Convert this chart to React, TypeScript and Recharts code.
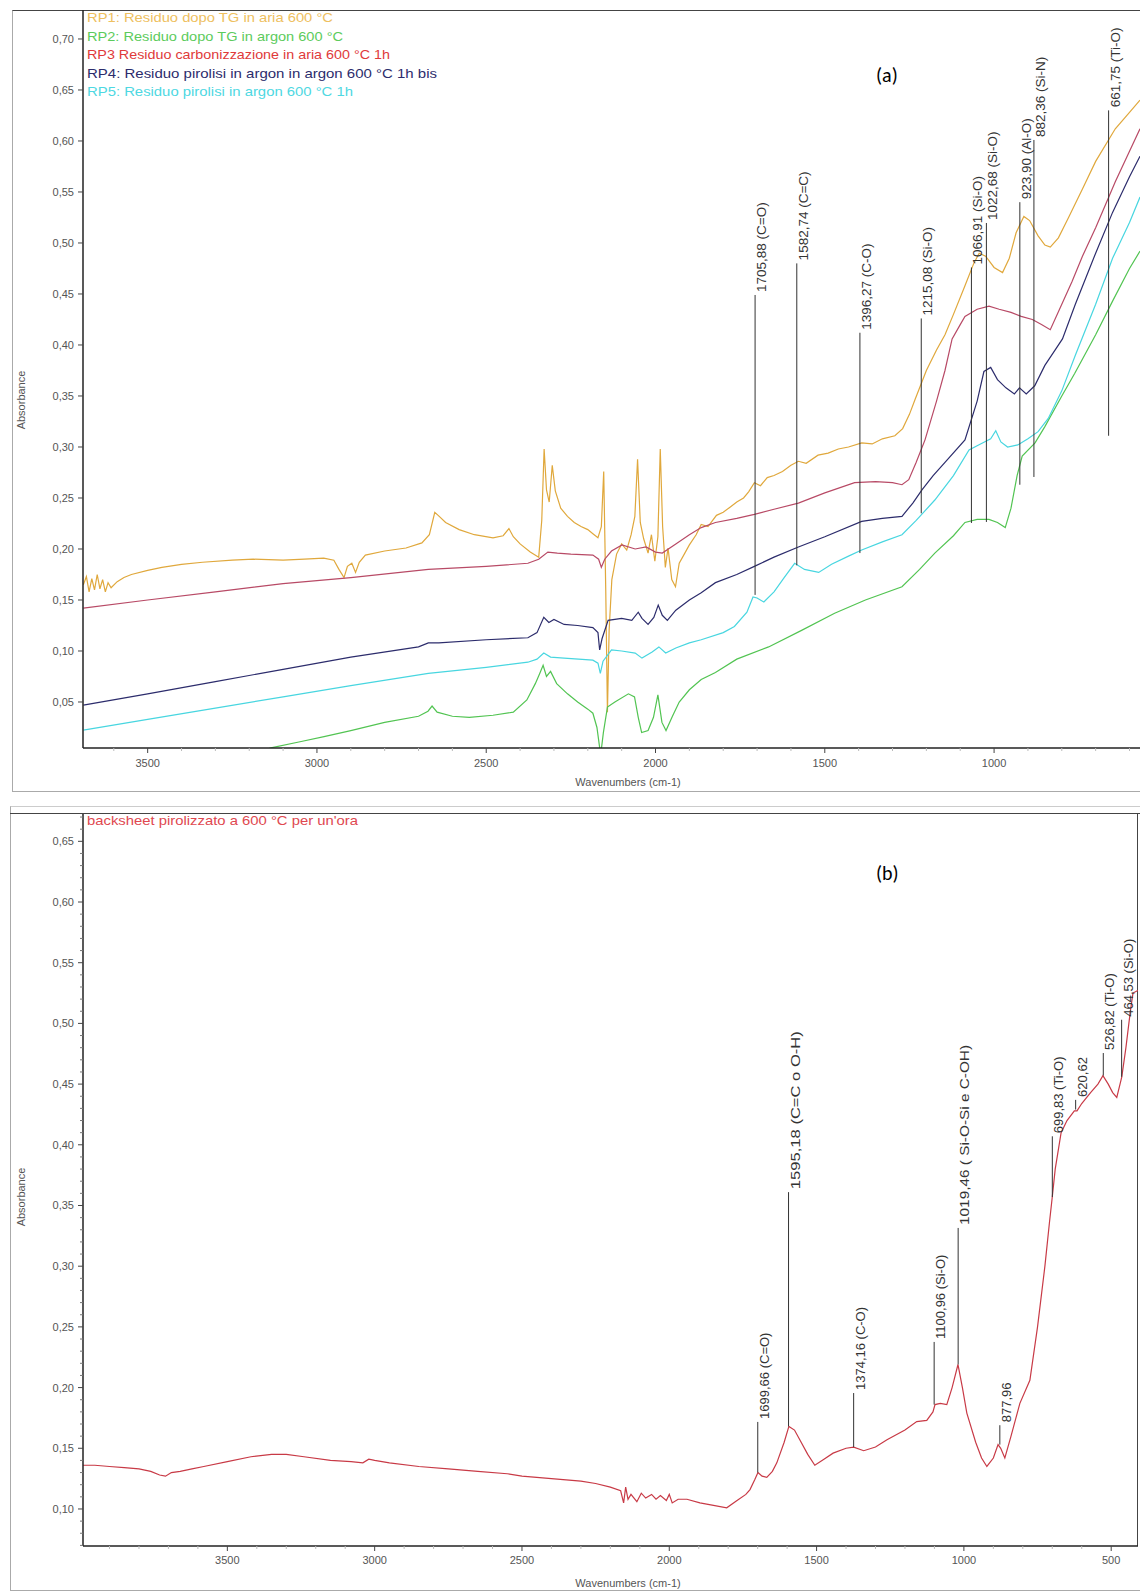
import React from 'react';
import { LineChart, Line, XAxis, YAxis, ReferenceLine } from 'recharts';

const FONT = '"Liberation Sans", Arial, sans-serif';

// ---------------- Panel (a) data ----------------
const rp1Wn = [3690, 3681, 3673, 3665, 3657, 3649, 3641, 3633, 3625, 3617, 3608, 3590, 3570, 3548, 3500, 3458, 3400, 3338, 3250, 3188, 3100, 3037, 2980, 2950, 2935, 2920, 2910, 2897, 2886, 2875, 2857, 2800, 2737, 2690, 2668, 2652, 2642, 2620, 2580, 2535, 2480, 2450, 2433, 2420, 2400, 2370, 2345, 2336, 2329, 2322, 2314, 2305, 2296, 2280, 2260, 2240, 2220, 2200, 2185, 2170, 2160, 2153, 2147, 2142, 2137, 2129, 2115, 2100, 2085, 2072, 2061, 2053, 2045, 2035, 2022, 2012, 2002, 1993, 1986, 1979, 1971, 1963, 1952, 1941, 1930, 1915, 1900, 1880, 1865, 1845, 1820, 1800, 1780, 1760, 1740, 1725, 1708, 1690, 1670, 1650, 1625, 1600, 1578, 1555, 1520, 1490, 1460, 1430, 1391, 1360, 1330, 1293, 1270, 1250, 1234, 1200, 1170, 1145, 1120, 1086, 1060, 1044, 1025, 1000, 975, 955, 935, 912, 895, 870, 850, 834, 810, 780, 739, 700, 642, 600, 569];
const rp1Abs = [0.165, 0.173, 0.158, 0.171, 0.16, 0.175, 0.161, 0.17, 0.158, 0.167, 0.162, 0.168, 0.172, 0.175, 0.179, 0.182, 0.185, 0.187, 0.189, 0.19, 0.189, 0.19, 0.191, 0.189, 0.18, 0.172, 0.183, 0.186, 0.177, 0.187, 0.194, 0.198, 0.201, 0.206, 0.214, 0.236, 0.233, 0.226, 0.219, 0.214, 0.211, 0.213, 0.22, 0.212, 0.205, 0.197, 0.192, 0.228, 0.298, 0.258, 0.246, 0.282, 0.257, 0.24, 0.232, 0.226, 0.222, 0.219, 0.215, 0.211, 0.222, 0.276, 0.16, 0.04, 0.12, 0.17, 0.195, 0.205, 0.199, 0.214, 0.232, 0.288, 0.226, 0.21, 0.196, 0.214, 0.188, 0.212, 0.298, 0.222, 0.182, 0.201, 0.17, 0.163, 0.186, 0.195, 0.204, 0.214, 0.224, 0.222, 0.233, 0.236, 0.241, 0.246, 0.25, 0.256, 0.265, 0.262, 0.27, 0.272, 0.276, 0.282, 0.286, 0.284, 0.292, 0.294, 0.298, 0.3, 0.304, 0.303, 0.308, 0.311, 0.318, 0.332, 0.346, 0.375, 0.395, 0.41, 0.43, 0.458, 0.48, 0.49, 0.487, 0.476, 0.471, 0.485, 0.51, 0.526, 0.522, 0.507, 0.498, 0.496, 0.505, 0.525, 0.553, 0.58, 0.612, 0.628, 0.64];

const rp2Wn = [3220, 3136, 3050, 2979, 2900, 2800, 2700, 2672, 2660, 2645, 2600, 2550, 2480, 2420, 2380, 2355, 2342, 2332, 2322, 2310, 2292, 2260, 2230, 2200, 2185, 2173, 2162, 2154, 2142, 2120, 2080, 2062, 2051, 2041, 2022, 2006, 1993, 1981, 1969, 1950, 1930, 1900, 1865, 1823, 1760, 1666, 1570, 1471, 1380, 1272, 1220, 1175, 1120, 1086, 1050, 1015, 990, 967, 950, 932, 917, 879, 850, 800, 762, 700, 650, 600, 569];
const rp2Abs = [-0.004, 0.005, 0.011, 0.016, 0.022, 0.03, 0.036, 0.041, 0.046, 0.04, 0.036, 0.035, 0.037, 0.04, 0.052, 0.068, 0.078, 0.086, 0.075, 0.08, 0.068, 0.058, 0.05, 0.043, 0.039, 0.025, -0.002, 0.02, 0.045, 0.05, 0.058, 0.055, 0.035, 0.02, 0.022, 0.035, 0.057, 0.03, 0.022, 0.036, 0.05, 0.062, 0.072, 0.079, 0.092, 0.104, 0.12, 0.137, 0.15, 0.163, 0.18, 0.196, 0.213, 0.226, 0.229, 0.229, 0.226, 0.221, 0.24, 0.272, 0.291, 0.304, 0.32, 0.35, 0.372, 0.41, 0.443, 0.475, 0.492];

const rp3Wn = [3690, 3500, 3300, 3100, 2900, 2671, 2500, 2377, 2345, 2318, 2290, 2250, 2185, 2168, 2160, 2150, 2130, 2099, 2060, 2028, 2000, 1980, 1940, 1900, 1865, 1823, 1760, 1708, 1650, 1578, 1500, 1412, 1350, 1300, 1272, 1252, 1230, 1204, 1170, 1145, 1124, 1100, 1086, 1050, 1015, 985, 950, 920, 887, 860, 834, 800, 770, 739, 700, 642, 600, 569];
const rp3Abs = [0.142, 0.15, 0.158, 0.166, 0.172, 0.18, 0.183, 0.186, 0.19, 0.197, 0.196, 0.195, 0.194, 0.19, 0.182, 0.19, 0.198, 0.204, 0.2, 0.202, 0.197, 0.196, 0.205, 0.214, 0.221, 0.226, 0.23, 0.234, 0.239, 0.245, 0.255, 0.265, 0.266, 0.265, 0.263, 0.268, 0.285, 0.307, 0.345, 0.375, 0.406, 0.42, 0.428, 0.435, 0.438, 0.435, 0.432, 0.428, 0.425, 0.42, 0.415, 0.44, 0.462, 0.487, 0.515, 0.56, 0.59, 0.612];

const rp4Wn = [3690, 3500, 3300, 3100, 2900, 2700, 2671, 2640, 2500, 2377, 2350, 2330, 2315, 2300, 2270, 2230, 2185, 2170, 2165, 2158, 2140, 2100, 2070, 2051, 2040, 2022, 2005, 1992, 1980, 1965, 1940, 1900, 1865, 1823, 1760, 1708, 1650, 1578, 1500, 1391, 1330, 1272, 1240, 1213, 1180, 1145, 1086, 1050, 1030, 1010, 990, 965, 940, 925, 905, 880, 850, 820, 798, 760, 700, 650, 600, 569];
const rp4Abs = [0.047, 0.058, 0.07, 0.082, 0.094, 0.104, 0.108, 0.108, 0.111, 0.113, 0.118, 0.133, 0.128, 0.131, 0.126, 0.125, 0.123, 0.118, 0.101, 0.112, 0.13, 0.132, 0.13, 0.138, 0.132, 0.126, 0.133, 0.145, 0.135, 0.13, 0.14, 0.15, 0.157, 0.167, 0.175, 0.183, 0.192, 0.202, 0.212, 0.227, 0.23, 0.232, 0.245, 0.258, 0.272, 0.285, 0.307, 0.345, 0.374, 0.378, 0.366, 0.358, 0.352, 0.358, 0.352, 0.36, 0.38, 0.395, 0.406, 0.44, 0.49, 0.53, 0.565, 0.585];

const rp5Wn = [3690, 3500, 3300, 3100, 2900, 2671, 2500, 2377, 2350, 2330, 2310, 2270, 2185, 2170, 2163, 2155, 2130, 2100, 2060, 2040, 2010, 1990, 1970, 1940, 1900, 1865, 1800, 1767, 1730, 1712, 1700, 1680, 1650, 1620, 1589, 1560, 1518, 1480, 1430, 1391, 1330, 1272, 1230, 1175, 1120, 1074, 1040, 1010, 995, 980, 960, 930, 900, 870, 840, 800, 760, 700, 650, 600, 569];
const rp5Abs = [0.0225, 0.033, 0.044, 0.055, 0.066, 0.078, 0.084, 0.089, 0.092, 0.098, 0.094, 0.093, 0.091, 0.088, 0.078, 0.09, 0.101, 0.1, 0.098, 0.093, 0.099, 0.104, 0.098, 0.103, 0.108, 0.111, 0.118, 0.124, 0.138, 0.153, 0.152, 0.148, 0.158, 0.172, 0.186, 0.18, 0.177, 0.185, 0.193, 0.199, 0.207, 0.214, 0.228, 0.248, 0.272, 0.297, 0.303, 0.308, 0.316, 0.305, 0.3, 0.302, 0.308, 0.315, 0.328, 0.355, 0.39, 0.44, 0.485, 0.52, 0.545];

const panelANames = [
  'RP1: Residuo dopo TG in aria 600 °C',
  'RP2: Residuo dopo TG in argon 600 °C',
  'RP3 Residuo carbonizzazione in aria 600 °C 1h',
  'RP4: Residuo pirolisi in argon in argon 600 °C 1h bis',
  'RP5: Residuo pirolisi in argon 600 °C 1h',
];
const panelAXTicks = [3500, 3000, 2500, 2000, 1500, 1000];
const panelAYTicks = [0.05, 0.1, 0.15, 0.2, 0.25, 0.3, 0.35, 0.4, 0.45, 0.5, 0.55, 0.6, 0.65, 0.7];
const panelAPeaks = [1705.88, 1582.74, 1396.27, 1215.08, 1066.91, 1022.68, 923.9, 882.36, 661.75];
const panelAPeakLabels = ['1705,88 (C=O)', '1582,74 (C=C)', '1396,27 (C-O)', '1215,08 (Si-O)', '1066,91 (Si-O)', '1022,68 (Si-O)', '923,90 (Al-O)', '882,36 (Si-N)', '661,75 (Ti-O)'];
const panelAPeakTop = [0.449, 0.48, 0.412, 0.426, 0.476, 0.5196, 0.54, 0.601, 0.63];
const panelAPeakBottom = [0.155, 0.184, 0.196, 0.235, 0.2255, 0.2265, 0.263, 0.2706, 0.311];

// ---------------- Panel (b) data ----------------
const bsWn = [4000, 3950, 3900, 3850, 3800, 3760, 3730, 3710, 3690, 3660, 3620, 3580, 3500, 3420, 3350, 3300, 3240, 3150, 3080, 3040, 3020, 3000, 2950, 2850, 2750, 2650, 2550, 2500, 2400, 2300, 2250, 2200, 2165, 2155, 2148, 2140, 2130, 2110, 2095, 2080, 2060, 2045, 2030, 2010, 2000, 1990, 1970, 1940, 1896, 1850, 1805, 1770, 1740, 1726, 1710, 1699, 1685, 1669, 1650, 1635, 1610, 1594, 1575, 1557, 1530, 1506, 1475, 1444, 1400, 1374, 1340, 1300, 1261, 1200, 1160, 1126, 1105, 1098, 1080, 1058, 1040, 1020, 1005, 990, 960, 940, 922, 900, 884, 875, 861, 840, 810, 776, 750, 725, 710, 700, 690, 670, 650, 625, 616, 600, 570, 545, 528, 510, 495, 481, 470, 464, 450, 435, 426, 403];
const bsAbs = [0.136, 0.136, 0.135, 0.134, 0.133, 0.131, 0.128, 0.127, 0.13, 0.131, 0.133, 0.135, 0.139, 0.143, 0.145, 0.145, 0.143, 0.14, 0.139, 0.138, 0.141, 0.14, 0.138, 0.135, 0.133, 0.131, 0.129, 0.127, 0.125, 0.123, 0.121, 0.118, 0.115, 0.105, 0.118, 0.108, 0.112, 0.106, 0.113, 0.109, 0.112, 0.108, 0.111, 0.107, 0.112, 0.105, 0.108, 0.108, 0.105, 0.103, 0.101, 0.107, 0.112, 0.116, 0.124, 0.13, 0.127, 0.126, 0.131, 0.138, 0.155, 0.168, 0.165, 0.157, 0.145, 0.136, 0.141, 0.146, 0.15, 0.151, 0.148, 0.151, 0.157, 0.165, 0.172, 0.173, 0.18, 0.186, 0.187, 0.186, 0.2, 0.219, 0.2, 0.179, 0.155, 0.142, 0.135, 0.142, 0.153, 0.15, 0.142, 0.16, 0.187, 0.206, 0.25, 0.3, 0.335, 0.357, 0.38, 0.41, 0.42, 0.428, 0.428, 0.434, 0.443, 0.45, 0.457, 0.45, 0.443, 0.439, 0.45, 0.456, 0.48, 0.51, 0.525, 0.528];

const panelBName = "backsheet pirolizzato a 600 °C per un'ora";
const panelBXTicks = [3500, 3000, 2500, 2000, 1500, 1000, 500];
const panelBYTicks = [0.1, 0.15, 0.2, 0.25, 0.3, 0.35, 0.4, 0.45, 0.5, 0.55, 0.6, 0.65];
const panelBPeaks = [1699.66, 1595.18, 1374.16, 1100.96, 1019.46, 877.96, 699.83, 620.62, 526.82, 464.53];
const panelBPeakLabels = ['1699,66 (C=O)', '1595,18 (C=C o O-H)', '1374,16 (C-O)', '1100,96 (Si-O)', '1019,46 ( Si-O-Si e C-OH)', '877,96', '699,83 (Ti-O)', '620,62', '526,82 (Ti-O)', '464,53 (Si-O)'];
const panelBPeakTop = [0.1717, 0.361, 0.1955, 0.2376, 0.3315, 0.169, 0.407, 0.437, 0.4756, 0.503];
const panelBPeakBottom = [0.13, 0.168, 0.151, 0.186, 0.219, 0.153, 0.357, 0.429, 0.457, 0.456];
const panelBLabelLength = [0, 158, 0, 0, 180, 0, 0, 0, 0, 0];

// ---------------- helpers ----------------
type Pt = { x: number; y: number };
const zip = (xs: number[], ys: number[]): Pt[] => xs.map((x, i) => ({ x, y: ys[i] }));
const steps = (from: number, to: number, step: number): number[] => {
  const out: number[] = [];
  const n0 = Math.round(from / step);
  const n1 = Math.round(to / step);
  for (let i = n0; i <= n1; i++) out.push(+(i * step).toFixed(4));
  return out;
};
const isIn = (arr: number[], v: number) => arr.some((m) => Math.abs(m - v) < 1e-6);

function XTick(props: any) {
  const { x, y, payload, majors, off } = props;
  const v = payload.value;
  const major = isIn(majors, v);
  return (
    <g>
      <line x1={x} x2={x} y1={y} y2={y + (major ? 5 : 3)} stroke={major ? '#444' : '#bbb'} strokeWidth={1} />
      {major && (
        <text x={x} y={y + off} textAnchor="middle" fontSize={11} fill="#555" fontFamily={FONT}>
          {v}
        </text>
      )}
    </g>
  );
}

function YTick(props: any) {
  const { x, y, payload, majors } = props;
  const v = payload.value;
  const major = isIn(majors, v);
  return (
    <g>
      <line x1={x} x2={x - (major ? 5 : 3)} y1={y} y2={y} stroke={major ? '#444' : '#777'} strokeWidth={1} />
      {major && (
        <text x={x - 9} y={y + 4} textAnchor="end" fontSize={11} fill="#555" fontFamily={FONT}>
          {v.toFixed(2).replace('.', ',')}
        </text>
      )}
    </g>
  );
}

const peakLabel = (text: string, size: number, dx: number, len?: number) => (p: any) => {
  const vb = p.viewBox || {};
  const x = (vb.x ?? 0) + dx;
  const y = (vb.y ?? 0) - 3;
  const extra = len ? { textLength: len, lengthAdjust: 'spacingAndGlyphs' } : {};
  return (
    <text transform={`translate(${x},${y}) rotate(-90)`} fontSize={size} fill="#333" fontFamily={FONT} {...extra}>
      {text}
    </text>
  );
};

const panelASeries = [
  { name: panelANames[0], wn: rp1Wn, ab: rp1Abs, color: '#E0A83C', text: '#EEC060' },
  { name: panelANames[1], wn: rp2Wn, ab: rp2Abs, color: '#52C452', text: '#5CCB5C' },
  { name: panelANames[2], wn: rp3Wn, ab: rp3Abs, color: '#B84A66', text: '#E03A3A' },
  { name: panelANames[3], wn: rp4Wn, ab: rp4Abs, color: '#2C2C6C', text: '#2C2C6C' },
  { name: panelANames[4], wn: rp5Wn, ab: rp5Abs, color: '#48D6E0', text: '#4ED8E2' },
];
const legendAWidths = [246, 256, 303, 350, 266];
const legendAY = [22, 40.5, 59, 77.5, 96];

function PanelA() {
  return (
    <LineChart width={1140} height={791} margin={{ top: 10, right: 0, bottom: 0, left: 0 }}>
      <XAxis
        type="number"
        dataKey="x"
        domain={[569, 3691]}
        reversed
        allowDataOverflow
        ticks={steps(600, 3600, 100)}
        interval={0}
        tickLine={false}
        tickSize={0}
        tickMargin={0}
        height={43}
        axisLine={{ stroke: '#222', strokeWidth: 1.5 }}
        tick={<XTick majors={panelAXTicks} off={19} />}
      />
      <YAxis
        type="number"
        domain={[0.0049, 0.7284]}
        allowDataOverflow
        ticks={panelAYTicks}
        interval={0}
        tickLine={false}
        tickSize={0}
        tickMargin={0}
        width={83}
        axisLine={{ stroke: '#222', strokeWidth: 1.5 }}
        tick={<YTick majors={panelAYTicks} />}
      />
      {panelASeries.map((s) => (
        <Line
          key={s.name}
          data={zip(s.wn, s.ab)}
          dataKey="y"
          stroke={s.color}
          strokeWidth={1.2}
          dot={false}
          isAnimationActive={false}
        />
      ))}
      {panelAPeaks.map((v, i) => (
        <ReferenceLine
          key={'pa' + i}
          segment={[
            { x: v, y: panelAPeakTop[i] },
            { x: v, y: panelAPeakBottom[i] },
          ]}
          stroke="#333"
          strokeWidth={1}
          label={peakLabel(panelAPeakLabels[i], 13.5, 11)}
        />
      ))}
    </LineChart>
  );
}

function PanelB() {
  return (
    <LineChart width={1140} height={785} margin={{ top: 8, right: 2, bottom: 0, left: 0 }}>
      <XAxis
        type="number"
        dataKey="x"
        domain={[409, 3990]}
        reversed
        allowDataOverflow
        ticks={steps(500, 3900, 100)}
        interval={0}
        tickLine={false}
        tickSize={0}
        tickMargin={0}
        height={45}
        axisLine={{ stroke: '#222', strokeWidth: 1.5 }}
        tick={<XTick majors={panelBXTicks} off={18} />}
      />
      <YAxis
        type="number"
        domain={[0.0695, 0.6725]}
        allowDataOverflow
        ticks={steps(0.07, 0.67, 0.01)}
        interval={0}
        tickLine={false}
        tickSize={0}
        tickMargin={0}
        width={83}
        axisLine={{ stroke: '#222', strokeWidth: 1.5 }}
        tick={<YTick majors={panelBYTicks} />}
      />
      <Line
        data={zip(bsWn, bsAbs)}
        dataKey="y"
        stroke="#C83A46"
        strokeWidth={1.2}
        dot={false}
        isAnimationActive={false}
      />
      {panelBPeaks.map((v, i) => (
        <ReferenceLine
          key={'pb' + i}
          segment={[
            { x: v, y: panelBPeakTop[i] },
            { x: v, y: panelBPeakBottom[i] },
          ]}
          stroke="#333"
          strokeWidth={1}
          label={peakLabel(panelBPeakLabels[i], 13, 11, panelBLabelLength[i] || undefined)}
        />
      ))}
    </LineChart>
  );
}

export default function App() {
  return (
    <div style={{ position: 'absolute', left: 0, top: 0, width: 1140, height: 1591, background: '#fff', overflow: 'hidden', fontFamily: FONT }}>
      {/* panel frames */}
      <div style={{ position: 'absolute', left: 12, top: 10, width: 1140, height: 780, borderLeft: '1.5px solid #aaa', borderBottom: '1.5px solid #aaa', borderTop: '1.5px solid #444' }} />
      <div style={{ position: 'absolute', left: 10, top: 806, width: 1140, height: 783, borderLeft: '1.5px solid #aaa', borderBottom: '1.5px solid #aaa', borderTop: '1px solid #ccc' }} />
      <div style={{ position: 'absolute', left: 10, top: 813, width: 1140, height: 0, borderTop: '1.5px solid #444' }} />
      <div style={{ position: 'absolute', left: 1137, top: 813, width: 0, height: 733, borderLeft: '1.5px solid #444' }} />

      <div style={{ position: 'absolute', left: 0, top: 0 }}>
        <PanelA />
      </div>
      <div style={{ position: 'absolute', left: 0, top: 806 }}>
        <PanelB />
      </div>

      <svg width={1140} height={1591} style={{ position: 'absolute', left: 0, top: 0, pointerEvents: 'none' }}>
        {panelASeries.map((s, i) => (
          <text key={s.name} x={87} y={legendAY[i]} fontSize={13} fill={s.text} fontFamily={FONT} textLength={legendAWidths[i]} lengthAdjust="spacingAndGlyphs">
            {s.name}
          </text>
        ))}
        <text x={87} y={825} fontSize={13} fill="#E04850" fontFamily={FONT} textLength={271} lengthAdjust="spacingAndGlyphs">
          {panelBName}
        </text>
        <text x={876} y={82} fontSize={20} fill="#000" fontFamily="Calibri, Carlito, 'Liberation Sans', Arial">(a)</text>
        <text x={876} y={880} fontSize={20} fill="#000" fontFamily="Calibri, Carlito, 'Liberation Sans', Arial">(b)</text>
        <text transform="translate(25,400) rotate(-90)" textAnchor="middle" fontSize={11} fill="#555" fontFamily={FONT}>Absorbance</text>
        <text transform="translate(25,1197) rotate(-90)" textAnchor="middle" fontSize={11} fill="#555" fontFamily={FONT}>Absorbance</text>
        <text x={628} y={786} textAnchor="middle" fontSize={11} fill="#555" fontFamily={FONT}>Wavenumbers (cm-1)</text>
        <text x={628} y={1587} textAnchor="middle" fontSize={11} fill="#555" fontFamily={FONT}>Wavenumbers (cm-1)</text>
      </svg>
    </div>
  );
}
